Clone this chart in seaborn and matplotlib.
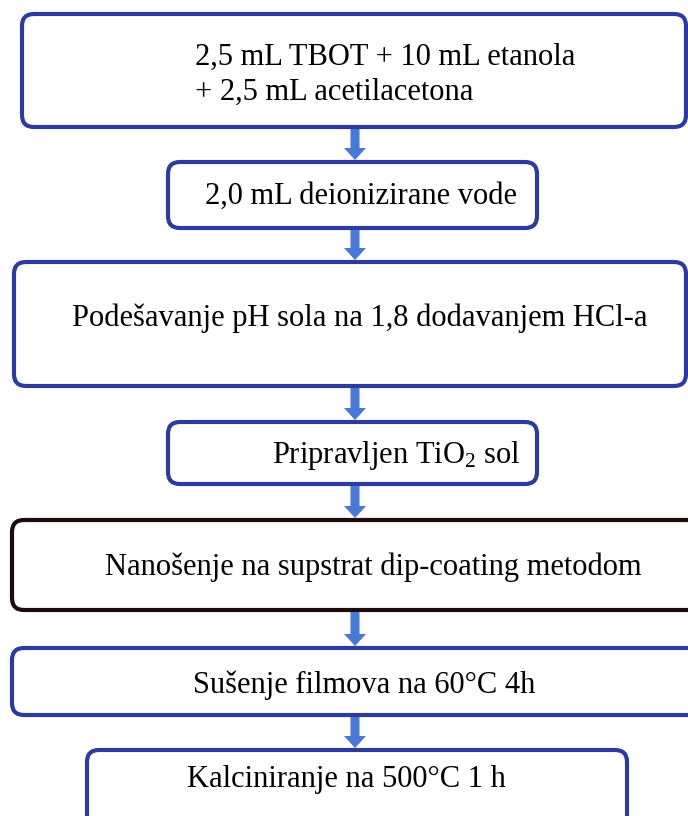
import matplotlib
matplotlib.use("Agg")
import matplotlib.pyplot as plt
import seaborn as sns
from matplotlib.patches import FancyBboxPatch, FancyArrow

# flowchart steps
steps = [
    "2,5 mL TBOT + 10 mL etanola\n+ 2,5 mL acetilacetona",
    "2,0 mL deionizirane vode",
    "Podešavanje pH sola na 1,8 dodavanjem HCl-a",
    "Pripravljen TiO$_2$ sol",
    "Nanošenje na supstrat dip-coating metodom",
    "Sušenje filmova na 60°C 4h",
    "Kalciniranje na 500°C 1 h",
]
box_left = [22, 168, 14, 168, 12, 12, 87]
box_right = [686, 537, 686, 537, 700, 700, 627]
box_top = [14, 162, 262, 422, 520, 648, 750]
box_bottom = [127, 228, 386, 484, 610, 715, 830]
text_x = [195, 205, 72, 272, 105, 193, 187]
text_y = [75, 196, 318, 455, 567, 685, 780]
edge_colors = ["#2e3b9c", "#2e3b9c", "#2e3b9c", "#2e3b9c", "#1e0c0c", "#2e3b9c", "#2e3b9c"]

sns.set_theme(style="white")
plt.rcParams['font.family'] = ['Liberation Serif', 'DejaVu Serif']
plt.rcParams['mathtext.fontset'] = 'custom'
plt.rcParams['mathtext.rm'] = 'Liberation Serif'
plt.rcParams['mathtext.default'] = 'rm'

fig = plt.figure(figsize=(6.88, 8.16), dpi=100)
ax = fig.add_axes([0, 0, 1, 1])
ax.set_xlim(0, 688)
ax.set_ylim(816, 0)
ax.axis('off')

for i, label in enumerate(steps):
    l, r, t, b = box_left[i], box_right[i], box_top[i], box_bottom[i]
    box = FancyBboxPatch((l, t), r - l, b - t,
                         boxstyle="round,pad=0,rounding_size=12",
                         fc='white', ec=edge_colors[i], lw=3)
    ax.add_patch(box)
    ax.text(text_x[i], text_y[i], label, ha='left', va='center',
            fontsize=22, color='black', linespacing=1.28)
    # arrow to next box
    if i < len(steps) - 1:
        y0 = b + 2
        y1 = box_top[i + 1] - 2
        ax.add_patch(FancyArrow(355, y0, 0, y1 - y0, width=9, head_width=22,
                                head_length=12, length_includes_head=True,
                                fc='#4a78d6', ec='none'))

plt.savefig('out.png', dpi=100)
